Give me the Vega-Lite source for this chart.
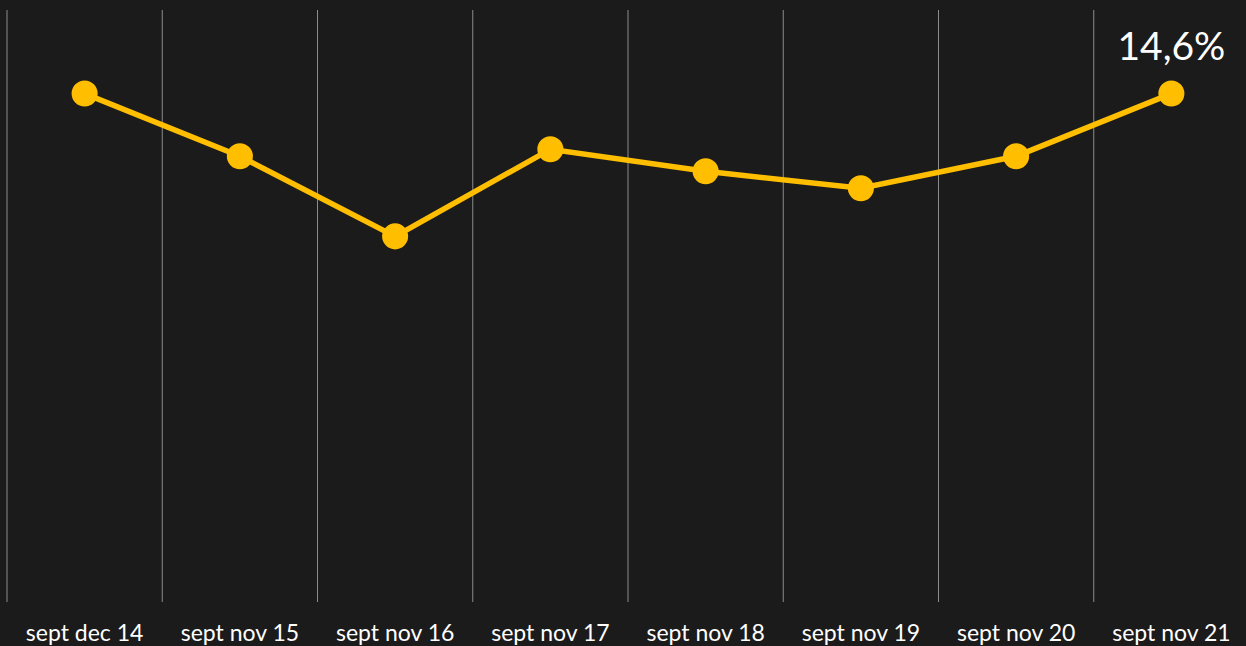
{
  "$schema": "https://vega.github.io/schema/vega-lite/v6.json",
  "width": 1242,
  "height": 592,
  "autosize": {"type": "none"},
  "padding": {"left": 7, "top": 10, "right": 0, "bottom": 44},
  "background": "#1b1b1b",
  "config": {"view": {"stroke": null}, "font": "Lato"},
  "data": {
    "values": [
      {"period": "sept dec 14", "value": 14.6, "label": ""},
      {"period": "sept nov 15", "value": 12.8, "label": ""},
      {"period": "sept nov 16", "value": 10.5, "label": ""},
      {"period": "sept nov 17", "value": 13.0, "label": ""},
      {"period": "sept nov 18", "value": 12.37, "label": ""},
      {"period": "sept nov 19", "value": 11.88, "label": ""},
      {"period": "sept nov 20", "value": 12.8, "label": ""},
      {"period": "sept nov 21", "value": 14.6, "label": "14,6%"}
    ]
  },
  "encoding": {
    "x": {
      "field": "period", "type": "nominal", "sort": null,
      "scale": {"type": "band", "paddingInner": 0, "paddingOuter": 0},
      "axis": {"title": null, "domain": false, "ticks": false, "grid": false, "labelAngle": 0, "labelColor": "#ffffff", "labelFontSize": 23, "labelPadding": 20, "labelFont": "Lato"}
    }
  },
  "layer": [
    {
      "mark": {"type": "rule", "color": "#8c8c8c", "strokeWidth": 1},
      "encoding": {"x": {"field": "period", "type": "nominal", "sort": null, "bandPosition": 0}}
    },
    {
      "mark": {"type": "line", "color": "#ffbe00", "strokeWidth": 5.5},
      "encoding": {"y": {"field": "value", "type": "quantitative", "scale": {"domain": [0, 17], "nice": false, "zero": true}, "axis": null}}
    },
    {
      "mark": {"type": "circle", "color": "#ffbe00", "opacity": 1, "size": 680},
      "encoding": {"y": {"field": "value", "type": "quantitative"}}
    },
    {
      "mark": {"type": "text", "color": "#ffffff", "fontSize": 39, "dy": -46, "font": "Lato"},
      "encoding": {"y": {"field": "value", "type": "quantitative"}, "text": {"field": "label"}}
    }
  ]
}
